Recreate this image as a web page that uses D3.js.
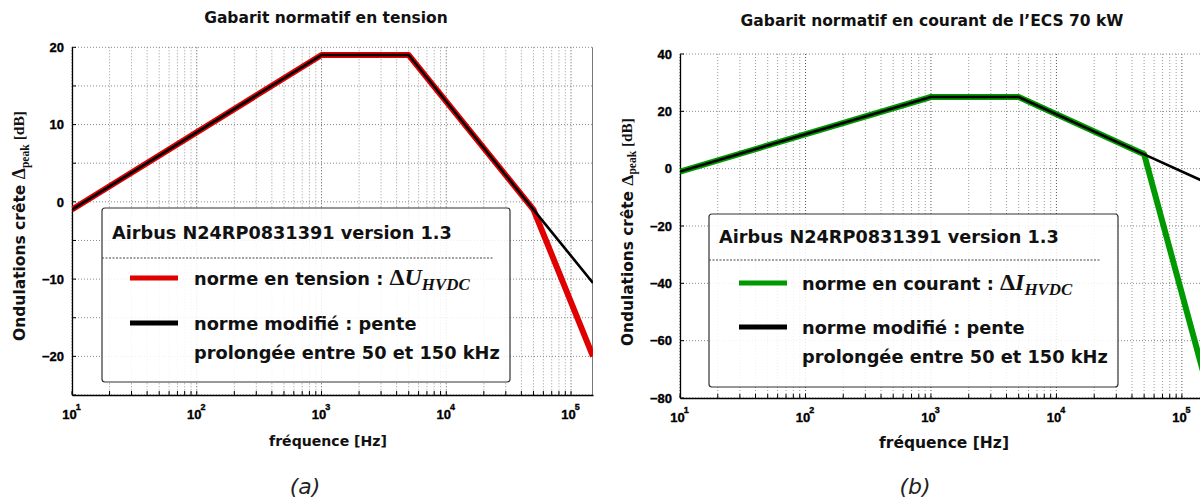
<!DOCTYPE html>
<html>
<head>
<meta charset="utf-8">
<script src="https://cdn.jsdelivr.net/npm/d3@7"></script>
<style>
  html, body { margin: 0; padding: 0; background: #fff; }
  svg { display: block; }
  text { font-family: "DejaVu Sans", "Noto Sans", sans-serif; }
  .tk { font-family: "Liberation Sans", Arial, sans-serif; font-weight: 700; font-size: 13px; fill: #000; stroke: #000; stroke-width: 0.35px; }
</style>
</head>
<body>
<svg id="chart" width="1200" height="502"></svg>
<script>
// ---------- data ----------
const freqA = [10, 1000, 5000, 50000, 150000];
const normeTension = [-1, 19, 19, -1, -20];
const modifieTension = [-1, 19, 19, -1, -10.5];

const freqB = [10, 1000, 5000, 50000, 150000];
const normeCourant = [-1, 25, 25, 5, -72];
const modifieCourant = [-1, 25, 25, 5, -4.5];

const yTicksA = [-20, -10, 0, 10, 20];
const yTicksB = [-80, -60, -40, -20, 0, 20, 40];
const xTickExps = [1, 2, 3, 4, 5];

const titleA = "Gabarit normatif en tension";
const titleB = "Gabarit normatif en courant de l\u2019ECS 70 kW";
const legendTitle = "Airbus N24RP0831391 version 1.3";
const xLabel = "fréquence [Hz]";

const svg = d3.select("#chart");

function fitWidth(sel, w) {
  const node = sel.node();
  const cur = node.getComputedTextLength();
  const fs = parseFloat(sel.attr("font-size"));
  if (cur > 0) sel.attr("font-size", (fs * w / cur).toFixed(2));
  return parseFloat(sel.attr("font-size"));
}

// title size: fit the longer title, reuse for the other
const probe = svg.append("text").attr("font-weight", "bold").attr("font-size", 13).text(titleB);
const titleFs = fitWidth(probe, 383);
probe.remove();

function drawChart(cfg) {
  const g = svg.append("g");
  const x = d3.scaleLog().domain([10, 150000]).range([cfg.x0, cfg.x1]);
  const y = d3.scaleLinear().domain(cfg.yDomain).range([cfg.yBot, cfg.yTop]);

  const clipId = "clip" + cfg.id;
  svg.append("clipPath").attr("id", clipId).append("rect")
    .attr("x", cfg.x0).attr("y", cfg.yTop - 4)
    .attr("width", cfg.x1 - cfg.x0).attr("height", cfg.yBot - cfg.yTop + 4);

  // vertical grid
  const vgrid = [];
  for (let d = 1; d <= 5; d++) for (let k = 1; k <= 9; k++) {
    const f = k * Math.pow(10, d);
    if (f <= 150000) vgrid.push({ f, major: k === 1 });
  }
  g.append("g").selectAll("line").data(vgrid).join("line")
    .attr("x1", d => x(d.f)).attr("x2", d => x(d.f))
    .attr("y1", cfg.yTop).attr("y2", cfg.yBot)
    .attr("stroke", d => d.major ? "#555" : "#999")
    .attr("stroke-width", 1)
    .attr("stroke-dasharray", "1,2");

  // horizontal grid
  const hgrid = d3.range(cfg.yDomain[0], cfg.yDomain[1] + 0.001, cfg.gridStep);
  g.append("g").selectAll("line").data(hgrid).join("line")
    .attr("x1", cfg.x0).attr("x2", cfg.x1)
    .attr("y1", d => y(d)).attr("y2", d => y(d))
    .attr("stroke", "#888").attr("stroke-width", 1)
    .attr("stroke-dasharray", "1,2");

  // right border
  g.append("line").attr("x1", cfg.x1 - 0.5).attr("x2", cfg.x1 - 0.5)
    .attr("y1", cfg.yTop).attr("y2", cfg.yBot).attr("stroke", "#777");

  // y axis
  const yAxis = d3.axisLeft(y).tickValues(cfg.yTicks).tickSize(0).tickPadding(8)
    .tickFormat(d3.format("d"));
  const ya = g.append("g").attr("transform", `translate(${cfg.x0},0)`).call(yAxis)
    .attr("font-family", null).attr("font-size", null);
  ya.select(".domain").attr("stroke", "#000").attr("stroke-width", 1.3);
  ya.selectAll("text").attr("class", "tk").attr("fill", null);
  // small inward ticks on y
  g.append("g").selectAll("line").data(hgrid).join("line")
    .attr("x1", cfg.x0).attr("x2", cfg.x0 + 4)
    .attr("y1", d => y(d)).attr("y2", d => y(d)).attr("stroke", "#000");

  // x axis
  const xAxis = d3.axisBottom(x).tickValues(xTickExps.map(e => Math.pow(10, e)))
    .tickSize(0).tickPadding(15).tickFormat("");
  const xa = g.append("g").attr("transform", `translate(0,${cfg.yBot})`).call(xAxis)
    .attr("font-family", null).attr("font-size", null);
  xa.select(".domain").attr("stroke", "#000").attr("stroke-width", 1.3);
  xa.selectAll(".tick text").each(function (d) {
    const t = d3.select(this);
    t.attr("class", "tk").attr("fill", null).attr("dx", "-1");
    t.append("tspan").text("10");
    t.append("tspan").style("font-size", "9px").attr("dy", -9).attr("dx", -1)
      .text(Math.round(Math.log10(d)));
  });
  // minor ticks on x
  g.append("g").selectAll("line").data(vgrid).join("line")
    .attr("x1", d => x(d.f)).attr("x2", d => x(d.f))
    .attr("y1", cfg.yBot).attr("y2", cfg.yBot - 4).attr("stroke", "#000");

  // lines
  const line = d3.line().x(d => x(d[0])).y(d => y(d[1]));
  const lines = g.append("g").attr("clip-path", `url(#${clipId})`);
  lines.append("path").datum(cfg.freq.map((f, i) => [f, cfg.norme[i]]))
    .attr("d", line).attr("fill", "none").attr("stroke", cfg.color)
    .attr("stroke-width", 6).attr("stroke-linejoin", "round");
  lines.append("path").datum(cfg.freq.map((f, i) => [f, cfg.modifie[i]]))
    .attr("d", line).attr("fill", "none").attr("stroke", "#000")
    .attr("stroke-width", 2.6).attr("stroke-linejoin", "round");

  // title
  svg.append("text").attr("x", cfg.titleX).attr("y", cfg.titleY)
    .attr("text-anchor", "middle").attr("font-weight", "bold").attr("font-size", titleFs)
    .attr("fill", "#111").text(cfg.title);

  // x label
  const xl = svg.append("text").attr("x", cfg.xLabelX).attr("y", cfg.xLabelY)
    .attr("text-anchor", "middle").attr("font-weight", "bold").attr("font-size", 15)
    .attr("fill", "#111").text(xLabel);
  fitWidth(xl, cfg.xLabelW);

  // y label
  const yl = svg.append("text")
    .attr("transform", `translate(${cfg.yLabelX},${cfg.yLabelY}) rotate(-90)`)
    .attr("text-anchor", "middle").attr("font-weight", "bold").attr("font-size", 15)
    .attr("fill", "#111");
  yl.append("tspan").text("Ondulations crête ");
  yl.append("tspan").attr("font-family", "'Liberation Serif', serif").attr("font-size", "1.15em").text("\u0394");
  yl.append("tspan").attr("font-family", "'Liberation Serif', serif").attr("font-size", "0.75em").attr("dy", "0.3em").text("peak");
  yl.append("tspan").attr("font-family", "'Liberation Serif', serif").attr("dy", "-0.3em").text(" [dB]");
  fitWidth(yl, cfg.yLabelW);

  // sub caption
  svg.append("text").attr("x", cfg.capX).attr("y", 494).attr("text-anchor", "middle")
    .attr("font-family", "'Open Sans', 'Noto Sans', sans-serif")
    .attr("font-style", "italic").attr("font-size", 22).attr("fill", "#222")
    .text(cfg.caption);

  // legend
  const L = cfg.legend;
  const lg = svg.append("g");
  lg.append("rect").attr("x", L.x).attr("y", L.y).attr("width", L.w).attr("height", L.h)
    .attr("rx", 3).attr("fill", "#fff").attr("fill-opacity", 0.86)
    .attr("stroke", "#333").attr("stroke-width", 1.2);
  const lt = lg.append("text").attr("x", L.x + 10).attr("y", L.titleY)
    .attr("font-weight", "bold").attr("font-size", 17).attr("fill", "#111").text(legendTitle);
  fitWidth(lt, L.titleW);
  lg.append("line").attr("x1", L.x).attr("x2", L.dashEnd).attr("y1", L.dashY).attr("y2", L.dashY)
    .attr("stroke", "#444").attr("stroke-dasharray", "2,1.5");
  lg.append("line").attr("x1", L.sx).attr("x2", L.sx + 48).attr("y1", L.s1y).attr("y2", L.s1y)
    .attr("stroke", cfg.color).attr("stroke-width", 5);
  lg.append("line").attr("x1", L.sx).attr("x2", L.sx + 48).attr("y1", L.s2y).attr("y2", L.s2y)
    .attr("stroke", "#000").attr("stroke-width", 5);
  const t3 = lg.append("text").attr("x", L.tx).attr("y", L.s2y + 36)
    .attr("font-weight", "bold").attr("font-size", 17).attr("fill", "#111")
    .text("prolongée entre 50 et 150 kHz");
  const fs = fitWidth(t3, L.t3W);
  lg.append("text").attr("x", L.tx).attr("y", L.s2y + 7)
    .attr("font-weight", "bold").attr("font-size", fs).attr("fill", "#111")
    .text("norme modifié : pente");
  const t1 = lg.append("text").attr("x", L.tx).attr("y", L.s1y + 7)
    .attr("font-weight", "bold").attr("font-size", fs).attr("fill", "#111");
  t1.append("tspan").text(cfg.normeLabel + " : ");
  t1.append("tspan").attr("font-family", "'Liberation Serif', serif").attr("font-size", "1.35em").text("\u0394");
  t1.append("tspan").attr("font-family", "'Liberation Serif', serif").attr("font-style", "italic")
    .attr("font-size", "1.35em").text(cfg.sym);
  t1.append("tspan").attr("font-family", "'Liberation Serif', serif").attr("font-style", "italic")
    .attr("font-size", "0.95em").attr("dy", 5).text("HVDC");
}

drawChart({
  id: "A", x0: 72, x1: 593, yTop: 47.3, yBot: 395, yDomain: [-25, 20], gridStep: 5,
  yTicks: yTicksA, freq: freqA, norme: normeTension, modifie: modifieTension,
  color: "#e00000", title: titleA, titleX: 326, titleY: 23,
  xLabelX: 328, xLabelY: 446, xLabelW: 118, yLabelX: 25, yLabelY: 226, yLabelW: 230,
  capX: 305, caption: "(a)", normeLabel: "norme en tension", sym: "U",
  legend: { x: 102, y: 208, w: 408, h: 174, titleY: 239, titleW: 340, dashY: 258, dashEnd: 493,
            sx: 130, s1y: 278, s2y: 323, tx: 194, t3W: 306 }
});

drawChart({
  id: "B", x0: 680, x1: 1204, yTop: 54, yBot: 398, yDomain: [-80, 40], gridStep: 20,
  yTicks: yTicksB, freq: freqB, norme: normeCourant, modifie: modifieCourant,
  color: "#009a00", title: titleB, titleX: 932, titleY: 26,
  xLabelX: 944, xLabelY: 448, xLabelW: 130, yLabelX: 633, yLabelY: 232, yLabelW: 228,
  capX: 915, caption: "(b)", normeLabel: "norme en courant", sym: "I",
  legend: { x: 709, y: 214, w: 409, h: 173, titleY: 243, titleW: 340, dashY: 260, dashEnd: 1100,
            sx: 739, s1y: 283, s2y: 327, tx: 802, t3W: 306 }
});
</script>
</body>
</html>
